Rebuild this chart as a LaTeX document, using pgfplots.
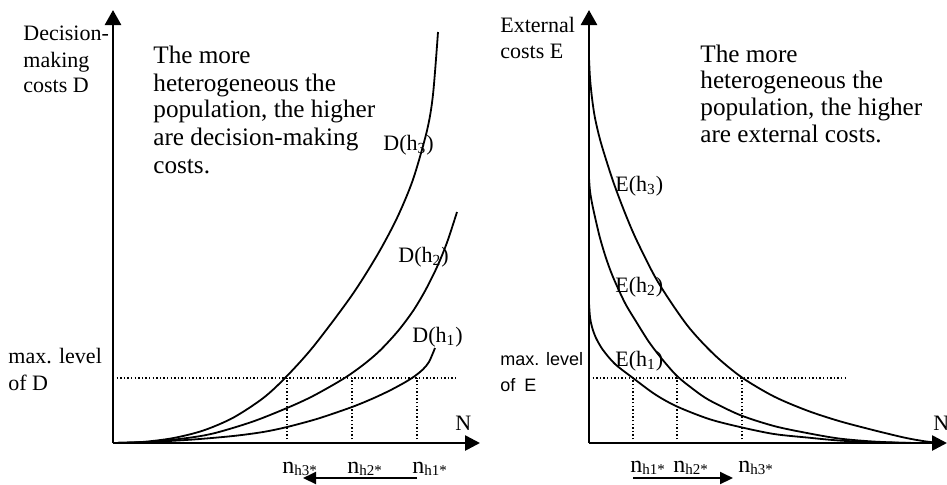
\documentclass[border=0pt]{standalone}
\usepackage{fontspec}
\setmainfont{Liberation Serif}
\newfontfamily\arialfont{Liberation Sans}
\usepackage{pgfplots}
\pgfplotsset{compat=1.18}
\usetikzlibrary{arrows.meta}

\pgfplotsset{
  panel/.style={
    x=0.5pt, y=0.5pt, xmin=0, ymin=0, ymax=433,
    axis lines*=left, enlargelimits=false, clip=false,
    xtick=\empty, ytick=\empty,
    axis line style={line width=1.3pt},
    x axis line style={-{Triangle[length=7.5pt,width=7.5pt]}},
    y axis line style={-{Triangle[length=7.5pt,width=8pt]}},
    anchor=south west,
  },
  curve/.style={black, line width=0.9pt, smooth, mark=none},
  dots/.style={black, line width=0.7pt, dash pattern=on 0.7pt off 1.1pt, mark=none},
}
\tikzset{
  lbl/.style={anchor=base west, inner sep=0pt, font=\fontsize{11}{13}\selectfont},
  big/.style={anchor=base west, inner sep=0pt, font=\fontsize{12.6}{14}\selectfont},
  nlbl/.style={anchor=base west, inner sep=0pt, font=\fontsize{12}{13}\selectfont},
  botarrow/.style={line width=1pt, -{Triangle[length=6.5pt,width=6pt]}},
}
\newcommand{\nsub}[1]{n{\fontsize{7.5}{8}\selectfont\raisebox{-1pt}{#1}}}

\begin{document}
\begin{tikzpicture}
\useasboundingbox (0,0) rectangle (473.5pt,-242pt);

% ---------- Left panel: decision-making costs ----------
\begin{axis}[panel, xmax=367, at={(56.5pt,-221.5pt)}]
\addplot[dots] coordinates {(0,65) (345,65)};
\addplot[dots] coordinates {(174,0) (174,65)};
\addplot[dots] coordinates {(239,0) (239,65)};
\addplot[dots] coordinates {(304,0) (304,65)};
% D(h3)
\addplot[curve] coordinates {(0,0) (30,1.1) (60,4.9) (90,12.4) (120,25.2) (150,44.8) (172,65) (200,96) (238,146.5) (264,187.5) (284,225) (300,263.5) (314,312.5) (320,348.5) (325,411)};
% D(h2)
\addplot[curve] coordinates {(0,0) (40,1.3) (80,5.8) (104,10.5) (140,21.5) (174,35) (200,47) (230,64) (250,78) (267,92.5) (285,112) (300,132) (312,152) (324,176) (334,200.5) (344,231)};
% D(h1)
\addplot[curve] coordinates {(0,0) (40,1.2) (80,3.5) (120,7) (150,11) (174,16) (205,24.4) (239,36) (260,44.6) (277,52.6) (292,60.7) (302,67.1) (310,73.7) (316,81.1) (322,95)};

\node[lbl] at (axis cs:270,293) {D(h\textsubscript{3})};
\node[lbl] at (axis cs:285,181) {D(h\textsubscript{2})};
\node[lbl] at (axis cs:299,101) {D(h\textsubscript{1})};

\node[lbl] at (axis cs:-90,403) {Decision-};
\node[lbl] at (axis cs:-90,376) {making};
\node[lbl] at (axis cs:-90,351) {costs D};

\node[lbl] at (axis cs:-105,80) {max. level};
\node[lbl] at (axis cs:-105,53) {of D};

\node[lbl] at (axis cs:342,13) {N};

\node[big] at (axis cs:40,380) {The more};
\node[big] at (axis cs:40,352) {heterogeneous the};
\node[big] at (axis cs:40,326) {population, the higher};
\node[big] at (axis cs:40,298) {are decision-making};
\node[big] at (axis cs:40,270) {costs.};

\node[nlbl] at (axis cs:169,-30) {\nsub{h3*}};
\node[nlbl] at (axis cs:234,-30) {\nsub{h2*}};
\node[nlbl] at (axis cs:299,-30) {\nsub{h1*}};
\draw[botarrow] (axis cs:304,-35) -- (axis cs:190,-35);
\end{axis}

% ---------- Right panel: external costs ----------
\begin{axis}[panel, xmax=358, at={(294.5pt,-221.5pt)}]
\addplot[dots] coordinates {(0,65) (258,65)};
\addplot[dots] coordinates {(44,0) (44,65)};
\addplot[dots] coordinates {(88,0) (88,65)};
\addplot[dots] coordinates {(153,0) (153,65)};
% E(h3)
\addplot[curve] coordinates {(0,385) (1,365) (3,345) (6,325) (12,300) (24,262) (36,230) (48,202) (69,161) (98,118) (125,88.6) (153,65.5) (185,46.5) (218,32.5) (250,22) (284,13) (315,5.5) (334,2) (350,0)};
% E(h2)
\addplot[curve] coordinates {(0,265) (1,252) (3,240) (6,226) (11,205) (17,185) (24,166) (36,140) (48,120) (60,101) (73,84) (88,67) (104,54) (120,43) (151,28) (185,17) (218,10) (250,4.5) (284,1.5) (320,0)};
% E(h1)
\addplot[curve] coordinates {(0,140) (1,126) (3,116) (7,105) (14,93) (26,79) (44,65) (66,48.7) (88,36.5) (120,24) (151,16) (185,9) (218,5.5) (250,2.5) (285,0.8) (330,0)};

\node[lbl] at (axis cs:26,252) {E(h\textsubscript{3})};
\node[lbl] at (axis cs:26,151) {E(h\textsubscript{2})};
\node[lbl] at (axis cs:26,77) {E(h\textsubscript{1})};

\node[lbl] at (axis cs:-89,411) {External};
\node[lbl] at (axis cs:-89,385) {costs E};

\node[anchor=base west, inner sep=0pt, font=\arialfont\fontsize{9}{11}\selectfont] at (axis cs:-89,78) {max. level};
\node[anchor=base west, inner sep=0pt, font=\arialfont\fontsize{9}{11}\selectfont] at (axis cs:-89,52) {of\enspace E};

\node[lbl] at (axis cs:344,13) {N};

\node[big] at (axis cs:111,381) {The more};
\node[big] at (axis cs:111,355) {heterogeneous the};
\node[big] at (axis cs:111,328) {population, the higher};
\node[big] at (axis cs:111,301) {are external costs.};

\node[nlbl] at (axis cs:41,-29) {\nsub{h1*}};
\node[nlbl] at (axis cs:84,-29) {\nsub{h2*}};
\node[nlbl] at (axis cs:149,-29) {\nsub{h3*}};
\draw[botarrow] (axis cs:44,-35) -- (axis cs:144,-35);
\end{axis}
\end{tikzpicture}
\end{document}
